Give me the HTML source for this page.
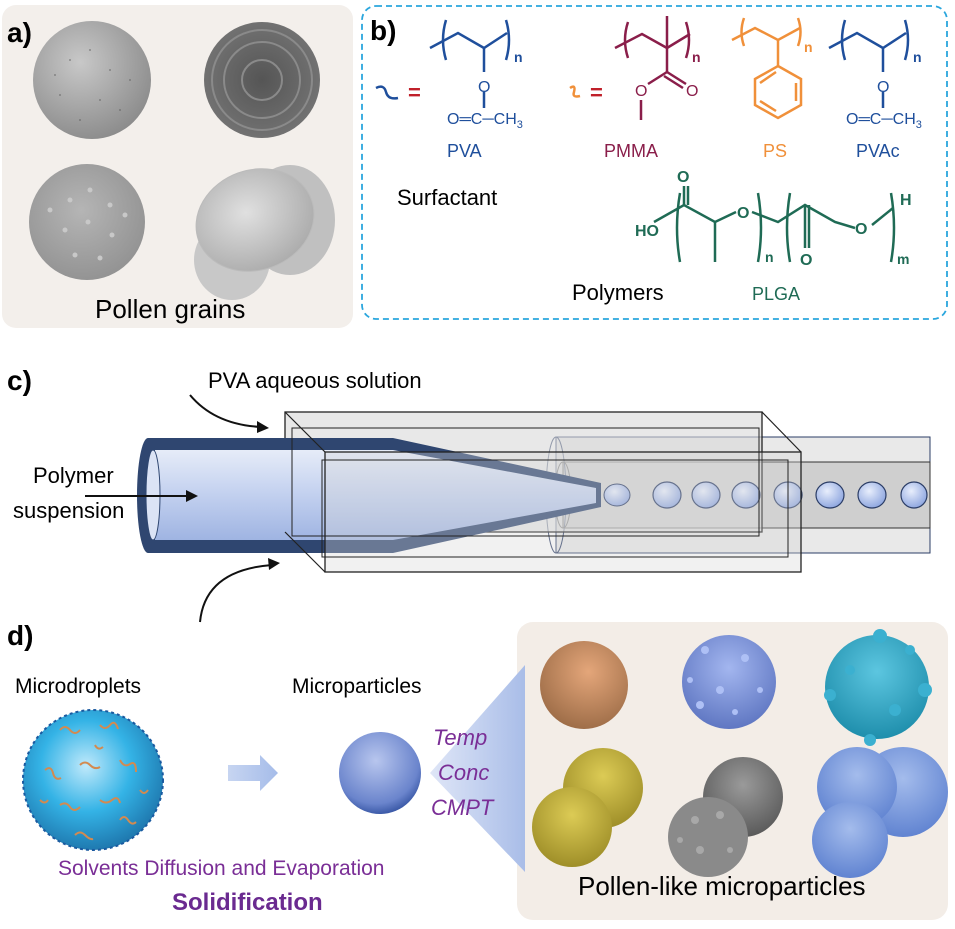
<!DOCTYPE html>
<html><head><meta charset="utf-8"><style>
html,body{margin:0;padding:0;background:#fff;}
svg{display:block;font-family:"Liberation Sans",sans-serif;}
</style></head><body>
<svg width="955" height="929" viewBox="0 0 955 929" xmlns="http://www.w3.org/2000/svg">
<defs>
<radialGradient id="gA" cx="0.4" cy="0.35" r="0.7"><stop offset="0" stop-color="#c8c8c8"/><stop offset="1" stop-color="#8a8a8a"/></radialGradient>
<radialGradient id="gB" cx="0.5" cy="0.5" r="0.6"><stop offset="0" stop-color="#555"/><stop offset="1" stop-color="#777"/></radialGradient>
<radialGradient id="gC" cx="0.45" cy="0.4" r="0.7"><stop offset="0" stop-color="#b5b5b5"/><stop offset="1" stop-color="#8e8e8e"/></radialGradient>
<radialGradient id="gD" cx="0.45" cy="0.4" r="0.7"><stop offset="0" stop-color="#e0e0e0"/><stop offset="1" stop-color="#a5a5a5"/></radialGradient>
<linearGradient id="tubeL" x1="0" y1="0" x2="0" y2="1"><stop offset="0" stop-color="#e6ecf8"/><stop offset="0.5" stop-color="#c2d0ef"/><stop offset="1" stop-color="#9fb4e2"/></linearGradient>
<radialGradient id="drop" cx="0.4" cy="0.35" r="0.7"><stop offset="0" stop-color="#e8eefc"/><stop offset="1" stop-color="#8aa3de"/></radialGradient>
<radialGradient id="mdrop" cx="0.45" cy="0.4" r="0.65"><stop offset="0" stop-color="#bfe9fb"/><stop offset="0.5" stop-color="#34b3e6"/><stop offset="1" stop-color="#1b6fa6"/></radialGradient>
<radialGradient id="mp" cx="0.45" cy="0.35" r="0.7"><stop offset="0" stop-color="#b8c6ee"/><stop offset="0.75" stop-color="#6a84cc"/><stop offset="1" stop-color="#2a4a9a"/></radialGradient>
<radialGradient id="or" cx="0.55" cy="0.35" r="0.7"><stop offset="0" stop-color="#e4a67a"/><stop offset="1" stop-color="#9a6a45"/></radialGradient>
<radialGradient id="bl" cx="0.5" cy="0.35" r="0.7"><stop offset="0" stop-color="#a3b6ef"/><stop offset="1" stop-color="#5a72bf"/></radialGradient>
<radialGradient id="te" cx="0.5" cy="0.35" r="0.7"><stop offset="0" stop-color="#5cc6e0"/><stop offset="1" stop-color="#1a8aa8"/></radialGradient>
<radialGradient id="ye" cx="0.5" cy="0.35" r="0.7"><stop offset="0" stop-color="#dccb55"/><stop offset="1" stop-color="#9a8a25"/></radialGradient>
<radialGradient id="gr" cx="0.5" cy="0.35" r="0.7"><stop offset="0" stop-color="#9a9a9a"/><stop offset="1" stop-color="#555"/></radialGradient>
<radialGradient id="bl2" cx="0.5" cy="0.35" r="0.7"><stop offset="0" stop-color="#a4bcec"/><stop offset="1" stop-color="#5b7fcf"/></radialGradient>
<linearGradient id="fan" x1="0" y1="0" x2="1" y2="0"><stop offset="0" stop-color="#dfe6f7"/><stop offset="1" stop-color="#a9bde8"/></linearGradient>
<linearGradient id="arr" x1="0" y1="0" x2="1" y2="0"><stop offset="0" stop-color="#c7d5f1"/><stop offset="1" stop-color="#a5bce9"/></linearGradient>
</defs>

<!-- Panel a -->
<rect x="2" y="5" width="351" height="323" rx="14" fill="#f3efeb"/>
<circle cx="92" cy="80" r="59" fill="url(#gA)"/>
<g fill="#555" opacity="0.5">
<circle cx="70" cy="60" r="1"/><circle cx="90" cy="50" r="1"/><circle cx="110" cy="70" r="1"/><circle cx="60" cy="95" r="1"/><circle cx="100" cy="100" r="1"/><circle cx="80" cy="120" r="1"/><circle cx="120" cy="110" r="1"/><circle cx="55" cy="75" r="1"/><circle cx="130" cy="80" r="1"/></g>
<circle cx="262" cy="80" r="58" fill="url(#gB)"/>
<g fill="none" stroke="#8a8a8a" stroke-width="2">
<circle cx="262" cy="80" r="20"/><circle cx="262" cy="80" r="38"/><circle cx="262" cy="80" r="50"/></g>
<circle cx="87" cy="222" r="58" fill="url(#gC)"/>
<g fill="#c8c8c8">
<circle cx="70" cy="200" r="2.5"/><circle cx="90" cy="190" r="2.5"/><circle cx="110" cy="205" r="2.5"/><circle cx="65" cy="230" r="2.5"/><circle cx="88" cy="222" r="2.5"/><circle cx="112" cy="235" r="2.5"/><circle cx="75" cy="255" r="2.5"/><circle cx="100" cy="258" r="2.5"/><circle cx="50" cy="210" r="2.5"/><circle cx="125" cy="215" r="2.5"/></g>
<ellipse cx="290" cy="220" rx="45" ry="55" fill="#c0c0c0"/>
<ellipse cx="232" cy="260" rx="38" ry="40" fill="#c8c8c8"/>
<ellipse cx="255" cy="220" rx="60" ry="50" transform="rotate(-20 255 220)" fill="url(#gD)" stroke="#bbb"/>
<text x="7" y="42" font-size="28" font-weight="bold">a)</text>
<text x="95" y="318" font-size="26">Pollen grains</text>

<!-- Panel b -->
<rect x="362" y="6" width="585" height="313" rx="14" fill="none" stroke="#2aa6dd" stroke-width="1.8" stroke-dasharray="6,4"/>
<text x="370" y="40" font-size="28" font-weight="bold">b)</text>
<g stroke="#1f4f9c" stroke-width="2.5" fill="none">
<polyline points="430,48 458,33 484,48 507,33"/>
<path d="M446,20 Q440,40 446,60 M506,20 Q512,40 506,60"/>
<line x1="484" y1="48" x2="484" y2="72"/>
<line x1="484" y1="92" x2="484" y2="108"/>
<path d="M376,88 Q384,84 386,92 Q388,100 398,98"/>
</g>
<g fill="#1f4f9c" font-size="16">
<text x="478" y="92">O</text>
<text x="514" y="62" font-weight="bold" font-size="14">n</text>
<text x="447" y="124">O═C─CH<tspan font-size="11" dy="4">3</tspan></text>
<text x="447" y="157" font-size="18">PVA</text>
</g>
<text x="408" y="100" font-size="22" fill="#c0202a" font-weight="bold">=</text>
<g stroke="#8a1e4a" stroke-width="2.5" fill="none">
<polyline points="615,48 642,34 667,48 690,34"/>
<line x1="667" y1="48" x2="667" y2="16"/>
<path d="M628,22 Q622,40 628,58 M686,22 Q692,40 686,58"/>
<line x1="667" y1="48" x2="667" y2="72"/>
<line x1="667" y1="72" x2="686" y2="84"/>
<line x1="664" y1="76" x2="683" y2="88"/>
<line x1="667" y1="72" x2="648" y2="84"/>
<line x1="641" y1="100" x2="641" y2="120"/>
</g>
<path d="M570,88 Q576,84 574,92 Q572,98 580,96" stroke="#f0903a" stroke-width="2.5" fill="none"/>
<text x="590" y="100" font-size="22" fill="#c0202a" font-weight="bold">=</text>
<g fill="#8a1e4a" font-size="16">
<text x="635" y="96">O</text><text x="686" y="96">O</text>
<text x="692" y="62" font-weight="bold" font-size="14">n</text>
<text x="604" y="157" font-size="18">PMMA</text>
</g>
<g stroke="#f0903a" stroke-width="2.5" fill="none">
<polyline points="732,40 755,28 778,40 800,28"/>
<path d="M744,18 Q739,32 744,46 M798,18 Q803,32 798,46"/>
<line x1="778" y1="40" x2="778" y2="66"/>
<polygon points="778,66 801,79 801,105 778,118 755,105 755,79"/>
<line x1="796" y1="83" x2="796" y2="101"/><line x1="760" y1="101" x2="776" y2="111"/><line x1="760" y1="83" x2="776" y2="72"/>
</g>
<text x="804" y="52" font-size="14" font-weight="bold" fill="#f0903a">n</text>
<text x="763" y="157" font-size="18" fill="#f0903a">PS</text>
<g transform="translate(399,0)">
<g stroke="#1f4f9c" stroke-width="2.5" fill="none">
<polyline points="430,48 458,33 484,48 507,33"/>
<path d="M446,20 Q440,40 446,60 M506,20 Q512,40 506,60"/>
<line x1="484" y1="48" x2="484" y2="72"/>
<line x1="484" y1="92" x2="484" y2="108"/>
</g>
<g fill="#1f4f9c" font-size="16">
<text x="478" y="92">O</text>
<text x="514" y="62" font-weight="bold" font-size="14">n</text>
<text x="447" y="124">O═C─CH<tspan font-size="11" dy="4">3</tspan></text>
<text x="457" y="157" font-size="18">PVAc</text>
</g>
</g>
<text x="397" y="205" font-size="22">Surfactant</text>
<g stroke="#1f6b55" stroke-width="2.5" fill="none">
<path d="M680,193 Q674,228 680,262 M758,193 Q764,228 758,262 M790,193 Q784,228 790,262 M891,193 Q897,228 891,262"/>
<polyline points="654,222 684,205 715,222 736,212"/>
<line x1="684" y1="205" x2="684" y2="186"/><line x1="688" y1="205" x2="688" y2="186"/>
<line x1="715" y1="222" x2="715" y2="262"/>
<polyline points="752,212 778,222 805,205 835,222 855,228"/>
<line x1="805" y1="205" x2="805" y2="248"/><line x1="809" y1="205" x2="809" y2="248"/>
<polyline points="872,225 893,208"/>
</g>
<g fill="#1f6b55" font-size="16" font-weight="bold">
<text x="677" y="182">O</text>
<text x="635" y="236">HO</text>
<text x="737" y="218">O</text>
<text x="855" y="234">O</text>
<text x="800" y="265">O</text>
<text x="900" y="205">H</text>
<text x="765" y="262" font-size="14">n</text>
<text x="897" y="264" font-size="14">m</text>
</g>
<text x="572" y="300" font-size="22">Polymers</text>
<text x="752" y="300" font-size="18" fill="#1f6b55">PLGA</text>

<!-- Panel c -->
<text x="7" y="390" font-size="28" font-weight="bold">c)</text>
<text x="208" y="388" font-size="22">PVA aqueous solution</text>
<path d="M190,395 Q215,425 262,427" stroke="#111" stroke-width="2" fill="none"/>
<polygon points="269,428 257,421 257,433" fill="#111"/>
<path d="M200,622 Q205,570 272,565" stroke="#111" stroke-width="2" fill="none"/>
<polygon points="280,563 268,558 269,570" fill="#111"/>
<!-- right cylinder -->
<rect x="556" y="437" width="374" height="116" fill="#e9e9e9" stroke="#2b3d66" stroke-width="1"/>
<rect x="563" y="462" width="367" height="66" fill="#cfcfcf" stroke="#333" stroke-width="1"/>
<ellipse cx="556" cy="495" rx="10" ry="58" fill="none" stroke="#2b3d66"/>
<ellipse cx="563" cy="495" rx="8" ry="33" fill="none" stroke="#333"/>
<!-- square box back -->
<rect x="285" y="412" width="477" height="120" fill="#d8d8d8" fill-opacity="0.6" stroke="#222" stroke-width="1.3"/>
<!-- left tube -->
<path d="M148,438 L393,438 L601,483 L601,507 L393,553 L148,553 Z" fill="#2f4670"/>
<ellipse cx="148" cy="495.5" rx="11" ry="57.5" fill="#2f4670"/>
<path d="M155,450 L393,450 L596,488 L596,503 L393,540 L155,540 Z" fill="url(#tubeL)"/>
<ellipse cx="153" cy="495" rx="7" ry="45" fill="#dbe3f5" stroke="#2f4670"/>
<!-- droplets -->
<ellipse cx="617" cy="495" rx="13" ry="11" fill="url(#drop)" stroke="#2b3d66"/>
<g fill="url(#drop)" stroke="#2b3d66" stroke-width="1.2">
<ellipse cx="667" cy="495" rx="14" ry="13"/><ellipse cx="706" cy="495" rx="14" ry="13"/><ellipse cx="746" cy="495" rx="14" ry="13"/><ellipse cx="788" cy="495" rx="14" ry="13"/><ellipse cx="830" cy="495" rx="14" ry="13"/><ellipse cx="872" cy="495" rx="14" ry="13"/><ellipse cx="914" cy="495" rx="13" ry="13"/></g>
<!-- square box front -->
<rect x="325" y="452" width="476" height="120" fill="#d8d8d8" fill-opacity="0.35" stroke="#222" stroke-width="1.3"/>
<rect x="292" y="428" width="467" height="108" fill="none" stroke="#222" stroke-width="1"/>
<rect x="322" y="460" width="466" height="97" fill="none" stroke="#222" stroke-width="1"/>
<g stroke="#222" stroke-width="1.2">
<line x1="285" y1="412" x2="325" y2="452"/><line x1="762" y1="412" x2="801" y2="452"/><line x1="285" y1="532" x2="325" y2="572"/></g>
<text x="33" y="483" font-size="22">Polymer</text>
<text x="13" y="518" font-size="22">suspension</text>
<line x1="85" y1="496" x2="190" y2="496" stroke="#111" stroke-width="2"/>
<polygon points="198,496 186,490 186,502" fill="#111"/>

<!-- Panel d -->
<text x="7" y="645" font-size="28" font-weight="bold">d)</text>
<rect x="517" y="622" width="431" height="298" rx="16" fill="#f3ede7"/>
<polygon points="430,773 525,665 525,872" fill="url(#fan)"/>
<text x="15" y="693" font-size="21">Microdroplets</text>
<text x="292" y="693" font-size="21">Microparticles</text>
<circle cx="93" cy="780" r="70" fill="url(#mdrop)" stroke="#1a5aa0" stroke-width="2" stroke-dasharray="3,3"/>
<g stroke="#d38a50" stroke-width="2" fill="none">
<path d="M60,730 q5,-6 10,0 t10,0"/><path d="M100,725 q5,6 10,0 t8,4"/><path d="M45,770 q6,-5 8,3 t8,5"/><path d="M80,765 q5,-5 10,0 t10,2"/><path d="M120,760 q4,8 10,4 t6,8"/><path d="M60,805 q6,-4 10,2 t10,0"/><path d="M100,800 q6,5 12,0 t8,3"/><path d="M75,835 q5,-5 10,0 t8,4"/><path d="M120,820 q4,-6 8,0 t8,2"/><path d="M40,800 q5,5 8,0"/><path d="M95,745 q3,6 8,2"/><path d="M140,790 q4,6 8,0"/></g>
<polygon points="228,765 260,765 260,755 278,773 260,791 260,781 228,781" fill="url(#arr)"/>
<circle cx="380" cy="773" r="41" fill="url(#mp)"/>
<g font-size="22" font-style="italic" fill="#7a2e96">
<text x="433" y="745">Temp</text><text x="438" y="780">Conc</text><text x="431" y="815">CMPT</text></g>
<text x="58" y="875" font-size="21" fill="#7a2e96">Solvents Diffusion and Evaporation</text>
<text x="172" y="910" font-size="24" font-weight="bold" fill="#6a2a90">Solidification</text>

<circle cx="584" cy="685" r="44" fill="url(#or)"/>
<circle cx="729" cy="682" r="47" fill="url(#bl)"/>
<g fill="#aec0f5"><circle cx="705" cy="650" r="4"/><circle cx="745" cy="658" r="4"/><circle cx="720" cy="690" r="4"/><circle cx="760" cy="690" r="3"/><circle cx="700" cy="705" r="4"/><circle cx="735" cy="712" r="3"/><circle cx="690" cy="680" r="3"/></g>
<circle cx="877" cy="687" r="52" fill="url(#te)"/>
<g fill="#3bb0d0"><circle cx="880" cy="636" r="7"/><circle cx="925" cy="690" r="7"/><circle cx="830" cy="695" r="6"/><circle cx="870" cy="740" r="6"/><circle cx="910" cy="650" r="5"/><circle cx="850" cy="670" r="5"/><circle cx="895" cy="710" r="6"/></g>
<circle cx="603" cy="788" r="40" fill="url(#ye)"/>
<circle cx="572" cy="827" r="40" fill="url(#ye)"/>
<circle cx="743" cy="797" r="40" fill="url(#gr)"/>
<circle cx="708" cy="837" r="40" fill="#8a8a8a"/>
<g fill="#a8a8a8"><circle cx="695" cy="820" r="4"/><circle cx="720" cy="815" r="4"/><circle cx="700" cy="850" r="4"/><circle cx="730" cy="850" r="3"/><circle cx="680" cy="840" r="3"/></g>
<circle cx="903" cy="792" r="45" fill="url(#bl2)"/>
<circle cx="857" cy="787" r="40" fill="url(#bl2)"/>
<circle cx="850" cy="840" r="38" fill="url(#bl2)"/>
<text x="578" y="895" font-size="26">Pollen-like microparticles</text>
</svg>
</body></html>
